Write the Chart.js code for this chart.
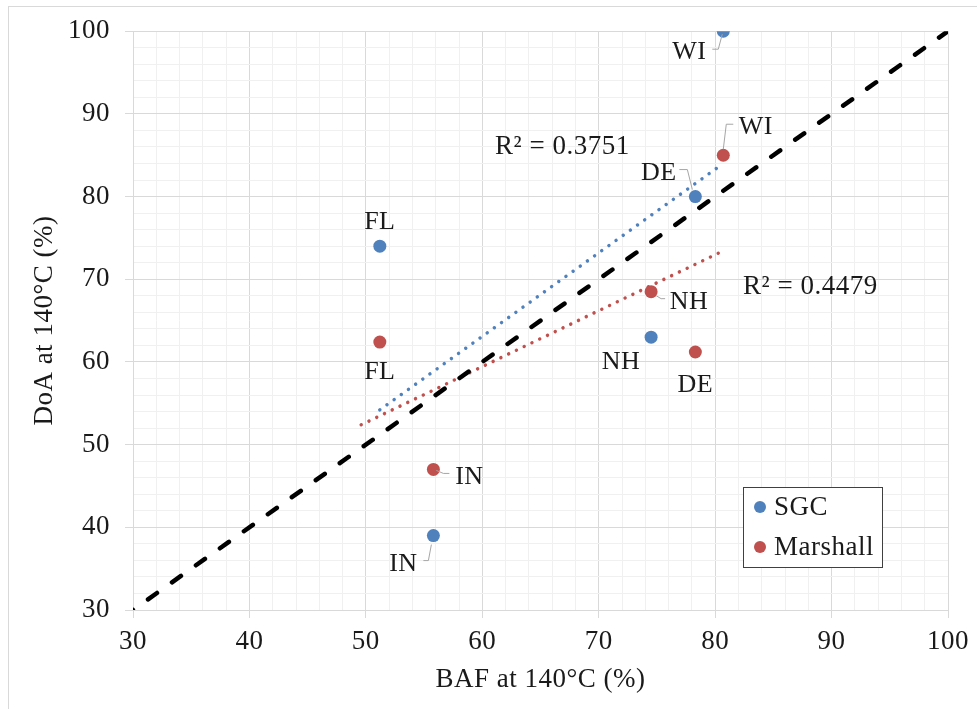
<!DOCTYPE html>
<html>
<head>
<meta charset="utf-8">
<script src="https://cdn.jsdelivr.net/npm/chart.js@4.4.1/dist/chart.umd.min.js"></script>
<style>
  html, body { margin: 0; padding: 0; background: #fff; }
  #wrap { position: relative; width: 977px; height: 709px; }
</style>
</head>
<body>
<div id="wrap"><canvas id="c" width="977" height="709"></canvas></div>
<script>
// ---- data ----
const states       = ['WI', 'DE', 'FL', 'NH', 'IN'];
const bafValues    = [80.7, 78.3, 51.2, 74.5, 55.8];
const doaSGC       = [100.0, 80.0, 74.0, 63.0, 39.0];
const doaMarshall  = [85.0, 61.2, 62.4, 68.5, 47.0];
const trendSGCX      = [51.2, 80.7];
const trendSGCY      = [54.2, 84.0];
const trendMarshallX = [49.6, 80.5];
const trendMarshallY = [52.4, 73.3];
const equalityLine   = [100, 30];
const r2Labels       = ['R\u00B2 = 0.3751', 'R\u00B2 = 0.4479'];
const seriesNames    = ['SGC', 'Marshall'];
const axisMin = 30, axisMax = 100;

// ---- styling / layout (not data) ----
const FONT = "'Liberation Serif', 'Times New Roman', serif";
const TXT = '#1a1a1a';
const BLUE = '#4f81bd';
const RED = '#c0504d';
const SPACING = '0.5px';
const r2Anchor = [{x: 61.1, y: 85.1}, {x: 82.4, y: 68.25}];
const labelLayout = {
  SGC: [
    {dx: -34, dy: 28, leader: [[-11, 18], [-5, 18], [-1, 3]]},
    {dx: -36.5, dy: -17, leader: [[-16, -27], [-8, -27], [-3, -7]]},
    {dx: 0, dy: -17},
    {dx: -30, dy: 32},
    {dx: -30, dy: 35, leader: [[-10, 25], [-5, 25], [-2, 9]]}
  ],
  Marshall: [
    {dx: 32.5, dy: -21, leader: [[10, -31], [3, -31], [0, -6]]},
    {dx: 0, dy: 40},
    {dx: 0, dy: 37},
    {dx: 38, dy: 17, leader: [[5, 4], [10, 7], [14, 7]]},
    {dx: 36, dy: 15, leader: [[3, 1], [10, 4], [16, 4]]}
  ]
};

const pts = (xs, ys) => xs.map((x, i) => ({x: x, y: ys[i]}));

const bgPlugin = {
  id: 'bg',
  beforeUpdate(chart) { chart.ctx.letterSpacing = SPACING; },
  beforeDraw(chart) {
    const ctx = chart.ctx;
    ctx.letterSpacing = SPACING;
    ctx.save();
    ctx.fillStyle = '#fff';
    ctx.fillRect(0, 0, chart.width, chart.height);
    ctx.strokeStyle = '#d9d9d9';
    ctx.lineWidth = 1;
    ctx.strokeRect(8.5, 6.5, chart.width + 20, chart.height + 20);
    ctx.restore();
  }
};

const labelPlugin = {
  id: 'labels',
  afterDatasetsDraw(chart) {
    const ctx = chart.ctx;
    ctx.save();
    ctx.font = '26px ' + FONT;
    ctx.fillStyle = TXT;
    ctx.textBaseline = 'alphabetic';
    ['SGC', 'Marshall'].forEach((name, di) => {
      const meta = chart.getDatasetMeta(di);
      meta.data.forEach((el, i) => {
        const L = labelLayout[name][i];
        if (L.leader) {
          ctx.strokeStyle = '#a6a6a6';
          ctx.lineWidth = 1;
          ctx.beginPath();
          L.leader.forEach((p, k) => {
            const px = el.x + p[0], py = el.y + p[1];
            if (k === 0) ctx.moveTo(px, py); else ctx.lineTo(px, py);
          });
          ctx.stroke();
        }
        ctx.textAlign = 'center';
        ctx.fillText(states[i], el.x + L.dx, el.y + L.dy);
      });
    });
    // R² labels
    ctx.font = '27px ' + FONT;
    const xs = chart.scales.x, ys = chart.scales.y;
    ctx.textAlign = 'left';
    r2Labels.forEach((t, i) => {
      ctx.fillText(t, xs.getPixelForValue(r2Anchor[i].x), ys.getPixelForValue(r2Anchor[i].y));
    });
    // legend box
    const ca = chart.chartArea;
    const bx = ca.right - 205, by = ca.bottom - 123, bw = 139, bh = 80;
    ctx.fillStyle = '#fff';
    ctx.fillRect(bx, by, bw, bh);
    ctx.strokeStyle = '#404040';
    ctx.lineWidth = 1;
    ctx.strokeRect(Math.round(bx) + 0.5, Math.round(by) + 0.5, bw, bh);
    [BLUE, RED].forEach((col, i) => {
      const cy = by + 20 + i * 40;
      ctx.fillStyle = col;
      ctx.beginPath();
      ctx.arc(bx + 17, cy, 6, 0, Math.PI * 2);
      ctx.fill();
      ctx.fillStyle = TXT;
      ctx.textBaseline = 'middle';
      ctx.fillText(seriesNames[i], bx + 31, cy + 1);
    });
    ctx.restore();
  }
};

const gridColor = c => (Math.round(c.tick.value) % 10 === 0 ? '#d9d9d9' : '#f0f0f0');
const tickColor = c => (Math.round(c.tick.value) % 10 === 0 ? '#d9d9d9' : 'rgba(0,0,0,0)');
const tickCb = v => (Math.round(v) % 10 === 0 ? String(Math.round(v)) : '');

new Chart(document.getElementById('c'), {
  type: 'scatter',
  data: {
    datasets: [
      {label: seriesNames[0], data: pts(bafValues, doaSGC), backgroundColor: BLUE, borderWidth: 0, pointRadius: 6.5, order: 0},
      {label: seriesNames[1], data: pts(bafValues, doaMarshall), backgroundColor: RED, borderWidth: 0, pointRadius: 6.5, order: 0},
      {label: 'eq', data: pts(equalityLine, equalityLine), showLine: true, borderColor: '#000', borderWidth: 4.5,
       borderDash: [11, 18.4], borderCapStyle: 'round', pointRadius: 0, order: 1},
      {label: 'tSGC', data: pts(trendSGCX, trendSGCY), showLine: true, borderColor: BLUE, borderWidth: 3.5,
       borderDash: [0.01, 8.8], borderCapStyle: 'round', pointRadius: 0, order: 2},
      {label: 'tMar', data: pts(trendMarshallX, trendMarshallY), showLine: true, borderColor: RED, borderWidth: 3.5,
       borderDash: [0.01, 8.6], borderCapStyle: 'round', pointRadius: 0, order: 2}
    ]
  },
  options: {
    responsive: false,
    animation: false,
    layout: {padding: {left: 0, top: 29, right: 29, bottom: 0}},
    plugins: {legend: {display: false}, tooltip: {enabled: false}},
    scales: {
      x: {
        type: 'linear', min: axisMin, max: axisMax,
        afterFit: s => { s.height = 99; },
        ticks: {stepSize: 2, autoSkip: false, maxRotation: 0, callback: tickCb, color: TXT, padding: 8,
                font: {family: FONT, size: 27}},
        grid: {color: gridColor, tickColor: tickColor, tickLength: 8, lineWidth: 1},
        border: {color: '#d9d9d9'},
        title: {display: true, text: 'BAF at 140\u00B0C (%)', color: TXT, font: {family: FONT, size: 27},
                padding: {top: 0, bottom: 13}}
      },
      y: {
        type: 'linear', min: axisMin, max: axisMax,
        afterFit: s => { s.width = 133; },
        ticks: {stepSize: 2, autoSkip: false, callback: tickCb, color: TXT, padding: 15,
                font: {family: FONT, size: 27}},
        grid: {color: gridColor, tickColor: tickColor, tickLength: 8, lineWidth: 1},
        border: {color: '#d9d9d9'},
        title: {display: true, text: 'DoA at 140\u00B0C (%)', color: TXT, font: {family: FONT, size: 27},
                padding: {top: 29, bottom: 0}}
      }
    }
  },
  plugins: [bgPlugin, labelPlugin]
});
</script>
</body>
</html>
